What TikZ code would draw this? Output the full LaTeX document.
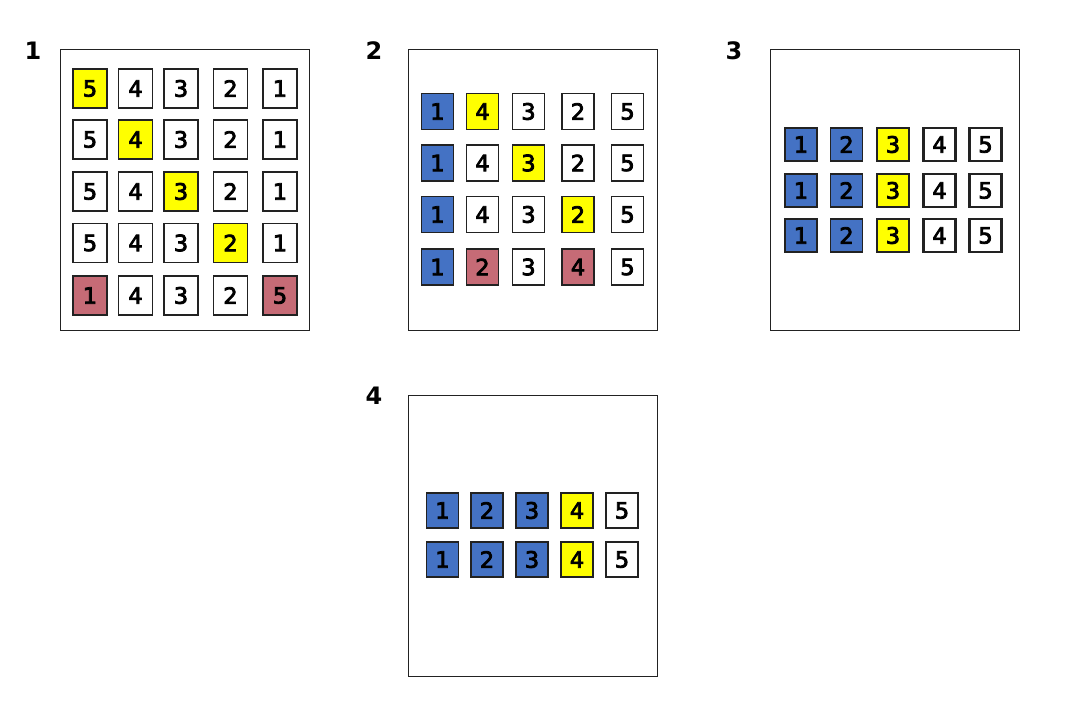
\documentclass[tikz,border=0pt]{standalone}
\usepackage{fontspec}
\setmainfont{DejaVu Sans}
\newfontfamily\cellfont[FakeBold=3.5]{DejaVu Sans}
\definecolor{colY}{HTML}{FFFF00}
\definecolor{colB}{HTML}{4472C4}
\definecolor{colR}{HTML}{C66B76}
\definecolor{colW}{HTML}{FFFFFF}
\definecolor{edge}{HTML}{222222}
\begin{document}
\begin{tikzpicture}[x=1pt,y=-1pt,
  frame/.style={draw=edge,line width=0.9pt},
  cell/.style={draw=edge,line width=1.6pt,inner sep=0pt,font=\cellfont\fontsize{22.5}{22.5}\selectfont},
  head/.style={font=\bfseries\fontsize{24}{24}\selectfont,inner sep=0pt}]
\useasboundingbox (0,0) rectangle (1080,720);
% headings
\node[head] (h1) at (33,51) {1};
\node[head] (h2) at (374,51) {2};
\node[head] (h3) at (734,51) {3};
\node[head] (h4) at (374,396) {4};
% frames
\draw[frame] (60,49) rectangle (309,330);
\draw[frame] (408,49) rectangle (657,330);
\draw[frame] (770,49) rectangle (1019,330);
\draw[frame] (408,395) rectangle (657,676);
% panel 1
\foreach \v/\c [count=\k] in {5/colY,4/colW,3/colW,2/colW,1/colW}{
  \pgfmathsetmacro{\xx}{{90,135.5,181,230.5,280}[\k-1]}
  \node[cell,fill=\c,minimum width=34pt,minimum height=39pt] (a1\k) at (\xx,88.5) {\v};}
\foreach \v/\c [count=\k] in {5/colW,4/colY,3/colW,2/colW,1/colW}{
  \pgfmathsetmacro{\xx}{{90,135.5,181,230.5,280}[\k-1]}
  \node[cell,fill=\c,minimum width=34pt,minimum height=39pt] (a2\k) at (\xx,139.5) {\v};}
\foreach \v/\c [count=\k] in {5/colW,4/colW,3/colY,2/colW,1/colW}{
  \pgfmathsetmacro{\xx}{{90,135.5,181,230.5,280}[\k-1]}
  \node[cell,fill=\c,minimum width=34pt,minimum height=39pt] (a3\k) at (\xx,191.5) {\v};}
\foreach \v/\c [count=\k] in {5/colW,4/colW,3/colW,2/colY,1/colW}{
  \pgfmathsetmacro{\xx}{{90,135.5,181,230.5,280}[\k-1]}
  \node[cell,fill=\c,minimum width=34pt,minimum height=39pt] (a4\k) at (\xx,243) {\v};}
\foreach \v/\c [count=\k] in {1/colR,4/colW,3/colW,2/colW,5/colR}{
  \pgfmathsetmacro{\xx}{{90,135.5,181,230.5,280}[\k-1]}
  \node[cell,fill=\c,minimum width=34pt,minimum height=39pt] (a5\k) at (\xx,295.5) {\v};}
% panel 2
\foreach \v/\c [count=\k] in {1/colB,4/colY,3/colW,2/colW,5/colW}{
  \pgfmathsetmacro{\xx}{{437.5,482.5,528.5,578,627.5}[\k-1]}
  \node[cell,fill=\c,minimum width=32pt,minimum height=36pt] (b1\k) at (\xx,111.5) {\v};}
\foreach \v/\c [count=\k] in {1/colB,4/colW,3/colY,2/colW,5/colW}{
  \pgfmathsetmacro{\xx}{{437.5,482.5,528.5,578,627.5}[\k-1]}
  \node[cell,fill=\c,minimum width=32pt,minimum height=36pt] (b2\k) at (\xx,163) {\v};}
\foreach \v/\c [count=\k] in {1/colB,4/colW,3/colW,2/colY,5/colW}{
  \pgfmathsetmacro{\xx}{{437.5,482.5,528.5,578,627.5}[\k-1]}
  \node[cell,fill=\c,minimum width=32pt,minimum height=36pt] (b3\k) at (\xx,214.5) {\v};}
\foreach \v/\c [count=\k] in {1/colB,2/colR,3/colW,4/colR,5/colW}{
  \pgfmathsetmacro{\xx}{{437.5,482.5,528.5,578,627.5}[\k-1]}
  \node[cell,fill=\c,minimum width=32pt,minimum height=36pt] (b4\k) at (\xx,267) {\v};}
% panel 3
\foreach \yy [count=\r] in {144.5,190.5,235.5}{
  \foreach \v/\c/\lw [count=\k] in {1/colB/1.5,2/colB/1.5,3/colY/1.5,4/colW/2.5,5/colW/2.5}{
    \pgfmathsetmacro{\xx}{{801,846.5,893,939.5,985.5}[\k-1]}
    \node[cell,fill=\c,line width=\lw pt,minimum width=32pt,minimum height=33pt] (c\r\k) at (\xx,\yy) {\v};}}
% panel 4
\foreach \yy [count=\r] in {510.5,559.5}{
  \foreach \v/\c/\lw [count=\k] in {1/colB/1.5,2/colB/1.5,3/colB/1.5,4/colY/1.5,5/colW/2.5}{
    \pgfmathsetmacro{\xx}{{442.5,487,532,577,622}[\k-1]}
    \node[cell,fill=\c,line width=\lw pt,minimum width=32pt,minimum height=35pt] (d\r\k) at (\xx,\yy) {\v};}}
\end{tikzpicture}
\end{document}
